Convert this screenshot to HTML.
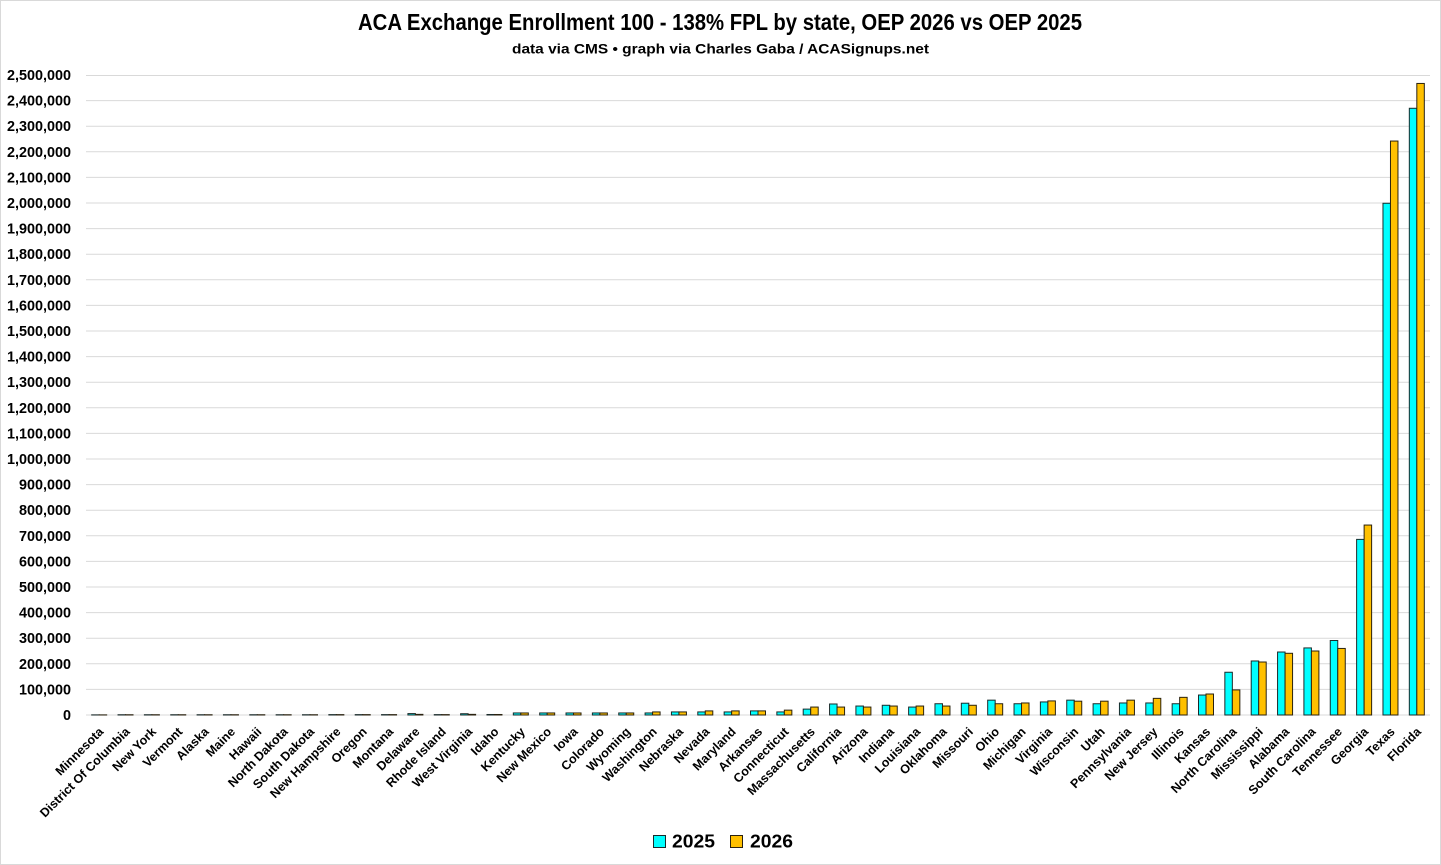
<!DOCTYPE html>
<html><head><meta charset="utf-8"><style>
html,body{margin:0;padding:0;background:#fff;}
svg{display:block;}
text{font-family:"Liberation Sans",Arial,sans-serif;font-weight:bold;fill:#000;}
.c{fill:#00ffff;stroke:#1a2a2a;stroke-width:1;}
.o{fill:#ffc000;stroke:#2a2210;stroke-width:1;}
.yl{font-size:14.4px;text-anchor:end;}
.xl{font-size:12.5px;text-anchor:end;}
</style></head><body>
<svg width="1441" height="865" viewBox="0 0 1441 865" xmlns="http://www.w3.org/2000/svg">
<rect x="0.5" y="0.5" width="1440" height="864" fill="#fff" stroke="#d9d9d9" stroke-width="1"/>
<text x="720" y="30" font-size="23" text-anchor="middle" textLength="724" lengthAdjust="spacingAndGlyphs">ACA Exchange Enrollment 100 - 138% FPL by state, OEP 2026 vs OEP 2025</text>
<text x="720.5" y="53.5" font-size="13.5" text-anchor="middle" textLength="417" lengthAdjust="spacingAndGlyphs">data via CMS • graph via Charles Gaba / ACASignups.net</text>
<g stroke="#d9d9d9" stroke-width="1">
<line x1="86" x2="1430" y1="75.5" y2="75.5"/><line x1="86" x2="1430" y1="100.6" y2="100.6"/><line x1="86" x2="1430" y1="126.2" y2="126.2"/><line x1="86" x2="1430" y1="151.8" y2="151.8"/><line x1="86" x2="1430" y1="177.4" y2="177.4"/><line x1="86" x2="1430" y1="203" y2="203"/><line x1="86" x2="1430" y1="228.6" y2="228.6"/><line x1="86" x2="1430" y1="254.2" y2="254.2"/><line x1="86" x2="1430" y1="279.8" y2="279.8"/><line x1="86" x2="1430" y1="305.4" y2="305.4"/><line x1="86" x2="1430" y1="331" y2="331"/><line x1="86" x2="1430" y1="356.6" y2="356.6"/><line x1="86" x2="1430" y1="382.2" y2="382.2"/><line x1="86" x2="1430" y1="407.8" y2="407.8"/><line x1="86" x2="1430" y1="433.4" y2="433.4"/><line x1="86" x2="1430" y1="459" y2="459"/><line x1="86" x2="1430" y1="484.6" y2="484.6"/><line x1="86" x2="1430" y1="510.2" y2="510.2"/><line x1="86" x2="1430" y1="535.8" y2="535.8"/><line x1="86" x2="1430" y1="561.4" y2="561.4"/><line x1="86" x2="1430" y1="587" y2="587"/><line x1="86" x2="1430" y1="612.6" y2="612.6"/><line x1="86" x2="1430" y1="638.2" y2="638.2"/><line x1="86" x2="1430" y1="663.8" y2="663.8"/><line x1="86" x2="1430" y1="689.4" y2="689.4"/><line x1="86" x2="1430" y1="715" y2="715"/>
</g>
<g>
<text class="yl" x="71" y="80">2,500,000</text>
<text class="yl" x="71" y="105.6">2,400,000</text>
<text class="yl" x="71" y="131.2">2,300,000</text>
<text class="yl" x="71" y="156.8">2,200,000</text>
<text class="yl" x="71" y="182.4">2,100,000</text>
<text class="yl" x="71" y="208">2,000,000</text>
<text class="yl" x="71" y="233.6">1,900,000</text>
<text class="yl" x="71" y="259.2">1,800,000</text>
<text class="yl" x="71" y="284.8">1,700,000</text>
<text class="yl" x="71" y="310.4">1,600,000</text>
<text class="yl" x="71" y="336">1,500,000</text>
<text class="yl" x="71" y="361.6">1,400,000</text>
<text class="yl" x="71" y="387.2">1,300,000</text>
<text class="yl" x="71" y="412.8">1,200,000</text>
<text class="yl" x="71" y="438.4">1,100,000</text>
<text class="yl" x="71" y="464">1,000,000</text>
<text class="yl" x="71" y="489.6">900,000</text>
<text class="yl" x="71" y="515.2">800,000</text>
<text class="yl" x="71" y="540.8">700,000</text>
<text class="yl" x="71" y="566.4">600,000</text>
<text class="yl" x="71" y="592">500,000</text>
<text class="yl" x="71" y="617.6">400,000</text>
<text class="yl" x="71" y="643.2">300,000</text>
<text class="yl" x="71" y="668.8">200,000</text>
<text class="yl" x="71" y="694.4">100,000</text>
<text class="yl" x="71" y="720">0</text>
</g>
<g transform="translate(0,715) scale(1,-1)">
<rect class="c" x="91.68" y="0" width="7.5" height="0.13"/><rect class="o" x="99.18" y="0" width="7.5" height="0.13"/>
<rect class="c" x="118.03" y="0" width="7.5" height="0.26"/><rect class="o" x="125.53" y="0" width="7.5" height="0.26"/>
<rect class="c" x="144.38" y="0" width="7.5" height="0.26"/><rect class="o" x="151.88" y="0" width="7.5" height="0.26"/>
<rect class="c" x="170.74" y="0" width="7.5" height="0.26"/><rect class="o" x="178.24" y="0" width="7.5" height="0.26"/>
<rect class="c" x="197.09" y="0" width="7.5" height="0.26"/><rect class="o" x="204.59" y="0" width="7.5" height="0.26"/>
<rect class="c" x="223.44" y="0" width="7.5" height="0.26"/><rect class="o" x="230.94" y="0" width="7.5" height="0.26"/>
<rect class="c" x="249.79" y="0" width="7.5" height="0.26"/><rect class="o" x="257.29" y="0" width="7.5" height="0.26"/>
<rect class="c" x="276.15" y="0" width="7.5" height="0.26"/><rect class="o" x="283.65" y="0" width="7.5" height="0.26"/>
<rect class="c" x="302.50" y="0" width="7.5" height="0.26"/><rect class="o" x="310.00" y="0" width="7.5" height="0.26"/>
<rect class="c" x="328.85" y="0" width="7.5" height="0.38"/><rect class="o" x="336.35" y="0" width="7.5" height="0.38"/>
<rect class="c" x="355.21" y="0" width="7.5" height="0.38"/><rect class="o" x="362.71" y="0" width="7.5" height="0.38"/>
<rect class="c" x="381.56" y="0" width="7.5" height="0.38"/><rect class="o" x="389.06" y="0" width="7.5" height="0.38"/>
<rect class="c" x="407.91" y="0" width="7.5" height="1.41"/><rect class="o" x="415.41" y="0" width="7.5" height="0.64"/>
<rect class="c" x="434.26" y="0" width="7.5" height="0.38"/><rect class="o" x="441.76" y="0" width="7.5" height="0.38"/>
<rect class="c" x="460.62" y="0" width="7.5" height="1.28"/><rect class="o" x="468.12" y="0" width="7.5" height="0.64"/>
<rect class="c" x="486.97" y="0" width="7.5" height="0.51"/><rect class="o" x="494.47" y="0" width="7.5" height="0.51"/>
<rect class="c" x="513.32" y="0" width="7.5" height="2.05"/><rect class="o" x="520.82" y="0" width="7.5" height="2.05"/>
<rect class="c" x="539.68" y="0" width="7.5" height="2.05"/><rect class="o" x="547.18" y="0" width="7.5" height="2.05"/>
<rect class="c" x="566.03" y="0" width="7.5" height="2.05"/><rect class="o" x="573.53" y="0" width="7.5" height="2.05"/>
<rect class="c" x="592.38" y="0" width="7.5" height="2.05"/><rect class="o" x="599.88" y="0" width="7.5" height="2.05"/>
<rect class="c" x="618.74" y="0" width="7.5" height="2.05"/><rect class="o" x="626.24" y="0" width="7.5" height="2.05"/>
<rect class="c" x="645.09" y="0" width="7.5" height="2.05"/><rect class="o" x="652.59" y="0" width="7.5" height="3.07"/>
<rect class="c" x="671.44" y="0" width="7.5" height="3.07"/><rect class="o" x="678.94" y="0" width="7.5" height="3.07"/>
<rect class="c" x="697.79" y="0" width="7.5" height="3.07"/><rect class="o" x="705.29" y="0" width="7.5" height="4.10"/>
<rect class="c" x="724.15" y="0" width="7.5" height="3.07"/><rect class="o" x="731.65" y="0" width="7.5" height="4.10"/>
<rect class="c" x="750.50" y="0" width="7.5" height="4.10"/><rect class="o" x="758.00" y="0" width="7.5" height="4.10"/>
<rect class="c" x="776.85" y="0" width="7.5" height="3.07"/><rect class="o" x="784.35" y="0" width="7.5" height="4.86"/>
<rect class="c" x="803.21" y="0" width="7.5" height="5.89"/><rect class="o" x="810.71" y="0" width="7.5" height="7.94"/>
<rect class="c" x="829.56" y="0" width="7.5" height="11.01"/><rect class="o" x="837.06" y="0" width="7.5" height="7.94"/>
<rect class="c" x="855.91" y="0" width="7.5" height="8.96"/><rect class="o" x="863.41" y="0" width="7.5" height="7.94"/>
<rect class="c" x="882.26" y="0" width="7.5" height="9.73"/><rect class="o" x="889.76" y="0" width="7.5" height="8.96"/>
<rect class="c" x="908.62" y="0" width="7.5" height="7.94"/><rect class="o" x="916.12" y="0" width="7.5" height="8.96"/>
<rect class="c" x="934.97" y="0" width="7.5" height="11.26"/><rect class="o" x="942.47" y="0" width="7.5" height="8.96"/>
<rect class="c" x="961.32" y="0" width="7.5" height="11.78"/><rect class="o" x="968.82" y="0" width="7.5" height="9.73"/>
<rect class="c" x="987.68" y="0" width="7.5" height="14.85"/><rect class="o" x="995.18" y="0" width="7.5" height="11.26"/>
<rect class="c" x="1014.03" y="0" width="7.5" height="11.26"/><rect class="o" x="1021.53" y="0" width="7.5" height="12.03"/>
<rect class="c" x="1040.38" y="0" width="7.5" height="13.06"/><rect class="o" x="1047.88" y="0" width="7.5" height="14.08"/>
<rect class="c" x="1066.74" y="0" width="7.5" height="14.85"/><rect class="o" x="1074.24" y="0" width="7.5" height="13.82"/>
<rect class="c" x="1093.09" y="0" width="7.5" height="11.26"/><rect class="o" x="1100.59" y="0" width="7.5" height="13.82"/>
<rect class="c" x="1119.44" y="0" width="7.5" height="12.03"/><rect class="o" x="1126.94" y="0" width="7.5" height="14.85"/>
<rect class="c" x="1145.79" y="0" width="7.5" height="12.03"/><rect class="o" x="1153.29" y="0" width="7.5" height="16.64"/>
<rect class="c" x="1172.15" y="0" width="7.5" height="11.26"/><rect class="o" x="1179.65" y="0" width="7.5" height="17.66"/>
<rect class="c" x="1198.50" y="0" width="7.5" height="19.97"/><rect class="o" x="1206.00" y="0" width="7.5" height="20.99"/>
<rect class="c" x="1224.85" y="0" width="7.5" height="42.75"/><rect class="o" x="1232.35" y="0" width="7.5" height="25.09"/>
<rect class="c" x="1251.21" y="0" width="7.5" height="54.02"/><rect class="o" x="1258.71" y="0" width="7.5" height="52.99"/>
<rect class="c" x="1277.56" y="0" width="7.5" height="62.98"/><rect class="o" x="1285.06" y="0" width="7.5" height="61.70"/>
<rect class="c" x="1303.91" y="0" width="7.5" height="67.07"/><rect class="o" x="1311.41" y="0" width="7.5" height="64.00"/>
<rect class="c" x="1330.26" y="0" width="7.5" height="74.50"/><rect class="o" x="1337.76" y="0" width="7.5" height="66.56"/>
<rect class="c" x="1356.62" y="0" width="7.5" height="175.62"/><rect class="o" x="1364.12" y="0" width="7.5" height="189.95"/>
<rect class="c" x="1382.97" y="0" width="7.5" height="511.74"/><rect class="o" x="1390.47" y="0" width="7.5" height="573.95"/>
<rect class="c" x="1409.32" y="0" width="7.5" height="606.72"/><rect class="o" x="1416.82" y="0" width="7.5" height="631.55"/>
</g>
<g transform="translate(-1.5,-1.5)">
<text class="xl" transform="translate(105.7,734) rotate(-45)">Minnesota</text>
<text class="xl" transform="translate(132.0,734) rotate(-45)">District Of Columbia</text>
<text class="xl" transform="translate(158.4,734) rotate(-45)">New York</text>
<text class="xl" transform="translate(184.7,734) rotate(-45)">Vermont</text>
<text class="xl" transform="translate(211.1,734) rotate(-45)">Alaska</text>
<text class="xl" transform="translate(237.4,734) rotate(-45)">Maine</text>
<text class="xl" transform="translate(263.8,734) rotate(-45)">Hawaii</text>
<text class="xl" transform="translate(290.1,734) rotate(-45)">North Dakota</text>
<text class="xl" transform="translate(316.5,734) rotate(-45)">South Dakota</text>
<text class="xl" transform="translate(342.9,734) rotate(-45)">New Hampshire</text>
<text class="xl" transform="translate(369.2,734) rotate(-45)">Oregon</text>
<text class="xl" transform="translate(395.6,734) rotate(-45)">Montana</text>
<text class="xl" transform="translate(421.9,734) rotate(-45)">Delaware</text>
<text class="xl" transform="translate(448.3,734) rotate(-45)">Rhode Island</text>
<text class="xl" transform="translate(474.6,734) rotate(-45)">West Virginia</text>
<text class="xl" transform="translate(501.0,734) rotate(-45)">Idaho</text>
<text class="xl" transform="translate(527.3,734) rotate(-45)">Kentucky</text>
<text class="xl" transform="translate(553.7,734) rotate(-45)">New Mexico</text>
<text class="xl" transform="translate(580.0,734) rotate(-45)">Iowa</text>
<text class="xl" transform="translate(606.4,734) rotate(-45)">Colorado</text>
<text class="xl" transform="translate(632.7,734) rotate(-45)">Wyoming</text>
<text class="xl" transform="translate(659.1,734) rotate(-45)">Washington</text>
<text class="xl" transform="translate(685.4,734) rotate(-45)">Nebraska</text>
<text class="xl" transform="translate(711.8,734) rotate(-45)">Nevada</text>
<text class="xl" transform="translate(738.1,734) rotate(-45)">Maryland</text>
<text class="xl" transform="translate(764.5,734) rotate(-45)">Arkansas</text>
<text class="xl" transform="translate(790.9,734) rotate(-45)">Connecticut</text>
<text class="xl" transform="translate(817.2,734) rotate(-45)">Massachusetts</text>
<text class="xl" transform="translate(843.6,734) rotate(-45)">California</text>
<text class="xl" transform="translate(869.9,734) rotate(-45)">Arizona</text>
<text class="xl" transform="translate(896.3,734) rotate(-45)">Indiana</text>
<text class="xl" transform="translate(922.6,734) rotate(-45)">Louisiana</text>
<text class="xl" transform="translate(949.0,734) rotate(-45)">Oklahoma</text>
<text class="xl" transform="translate(975.3,734) rotate(-45)">Missouri</text>
<text class="xl" transform="translate(1001.7,734) rotate(-45)">Ohio</text>
<text class="xl" transform="translate(1028.0,734) rotate(-45)">Michigan</text>
<text class="xl" transform="translate(1054.4,734) rotate(-45)">Virginia</text>
<text class="xl" transform="translate(1080.7,734) rotate(-45)">Wisconsin</text>
<text class="xl" transform="translate(1107.1,734) rotate(-45)">Utah</text>
<text class="xl" transform="translate(1133.4,734) rotate(-45)">Pennsylvania</text>
<text class="xl" transform="translate(1159.8,734) rotate(-45)">New Jersey</text>
<text class="xl" transform="translate(1186.1,734) rotate(-45)">Illinois</text>
<text class="xl" transform="translate(1212.5,734) rotate(-45)">Kansas</text>
<text class="xl" transform="translate(1238.9,734) rotate(-45)">North Carolina</text>
<text class="xl" transform="translate(1265.2,734) rotate(-45)">Mississippi</text>
<text class="xl" transform="translate(1291.6,734) rotate(-45)">Alabama</text>
<text class="xl" transform="translate(1317.9,734) rotate(-45)">South Carolina</text>
<text class="xl" transform="translate(1344.3,734) rotate(-45)">Tennessee</text>
<text class="xl" transform="translate(1370.6,734) rotate(-45)">Georgia</text>
<text class="xl" transform="translate(1397.0,734) rotate(-45)">Texas</text>
<text class="xl" transform="translate(1423.3,734) rotate(-45)">Florida</text>
</g>
<rect class="c" x="653.5" y="835.5" width="12" height="12"/>
<text x="672" y="847.5" font-size="18" textLength="43" lengthAdjust="spacingAndGlyphs">2025</text>
<rect class="o" x="730.5" y="835.5" width="12" height="12"/>
<text x="750" y="847.5" font-size="18" textLength="43" lengthAdjust="spacingAndGlyphs">2026</text>
</svg>
</body></html>
